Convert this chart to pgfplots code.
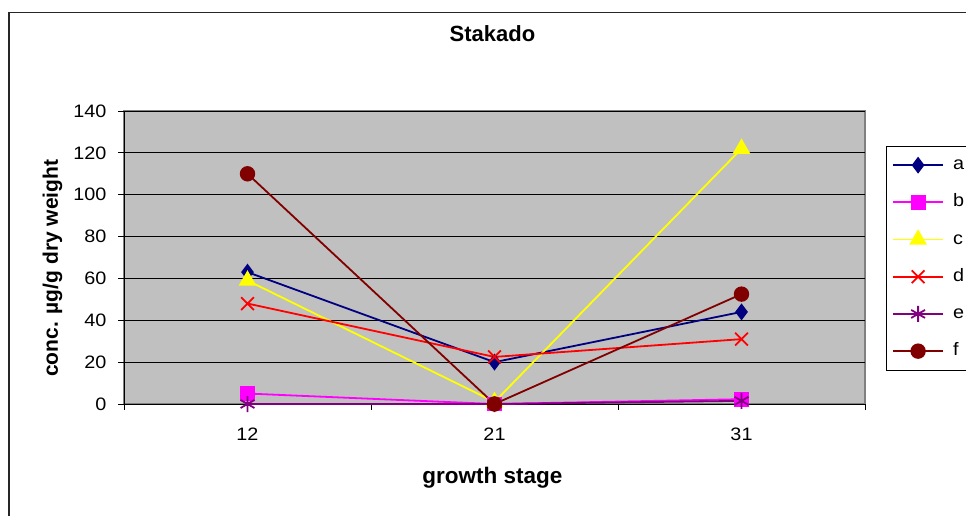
\documentclass[border=0pt]{standalone}
\usepackage{fontspec}
\setmainfont{Liberation Sans}
\newfontfamily\tickfont{Liberation Sans}[FakeStretch=1.1]
\usepackage{pgfplots}
\pgfplotsset{compat=1.18}
\definecolor{cA}{HTML}{000080}
\definecolor{cB}{HTML}{FF00FF}
\definecolor{cC}{HTML}{FFFF00}
\definecolor{cD}{HTML}{FF0000}
\definecolor{cE}{HTML}{800080}
\definecolor{cF}{HTML}{800000}
\definecolor{bg}{HTML}{C0C0C0}
\begin{document}
\begin{tikzpicture}
\useasboundingbox (0pt,0pt) rectangle (966pt,-516pt);
\draw[line width=1.5pt, black!85] (9pt,-520pt) -- (9pt,-12.5pt) -- (970pt,-12.5pt);
\begin{axis}[
  at={(124pt,-404pt)}, anchor=south west,
  scale only axis, width=741pt, height=293pt,
  xmin=-0.5, xmax=2.5, ymin=0, ymax=140,
  xtick={0,1,2}, xticklabels={12,21,31},
  minor xtick={-0.5,0.5,1.5,2.5},
  ytick={0,20,...,140},
  ymajorgrids, major grid style={black, line width=0.9pt},
  tick align=outside,
  major x tick style={draw=none},
  minor x tick style={black, line width=1pt},
  major y tick style={black, line width=1pt},
  major tick length=6pt, minor tick length=6pt,
  axis x line*=bottom, axis y line*=left,
  axis line style={black, line width=1pt},
  axis background/.style={fill=bg, draw=gray, line width=1.5pt},
  /pgf/number format/assume math mode=true,
  tick label style={font=\tickfont\fontsize{18}{20}\selectfont},
  yticklabel style={xshift=-8pt},
  xticklabel style={yshift=-14pt},
  title={Stakado},
  title style={font=\bfseries\fontsize{22}{26}\selectfont, at={(axis description cs:0.4973,1.243)}, anchor=center},
  xlabel={growth stage},
  xlabel style={font=\bfseries\fontsize{22.5}{26}\selectfont, at={(axis description cs:0.4973,-0.2526)}, anchor=center},
  ylabel={conc. µg/g dry weight},
  ylabel style={font=\bfseries\fontsize{21}{25}\selectfont, at={(axis description cs:-0.0965,0.463)}, anchor=center, rotate=0},
  legend cell align=left,
  legend style={at={(axis description cs:1.028,0.8816)}, anchor=north west,
    draw=black, line width=0.9pt, fill=white,
    font=\tickfont\fontsize{18}{20}\selectfont,
    inner xsep=6pt, inner ysep=10.5pt, row sep=20.2pt, column sep=9pt,
    nodes={inner sep=0pt, text height=13pt, text depth=4pt}},
  legend image code/.code={\draw[mark repeat=2, mark phase=2, #1] plot coordinates {(0pt,0pt) (25pt,0pt) (50pt,0pt)};},
  every axis plot/.append style={line width=1.8pt},
  clip=false,
]
\addplot[color=cA, mark=diamond*, mark size=7pt] coordinates {(0,63) (1,20) (2,44)};
\addlegendentry{a}
\addplot[color=cB, mark=square*, mark size=6.5pt] coordinates {(0,5) (1,0) (2,2.3)};
\addlegendentry{b}
\addplot[color=cC, mark=triangle*, mark size=8.5pt] coordinates {(0,59) (1,1) (2,122)};
\addlegendentry{c}
\addplot[color=cD, mark=x, mark size=9pt] coordinates {(0,48) (1,22.5) (2,31)};
\addlegendentry{d}
\addplot[color=cE, mark=asterisk, mark size=8pt] coordinates {(0,0) (1,0) (2,1.5)};
\addlegendentry{e}
\addplot[color=cF, mark=*, mark size=6.8pt] coordinates {(0,110) (1,0) (2,52.5)};
\addlegendentry{f}
\end{axis}
\end{tikzpicture}
\end{document}
